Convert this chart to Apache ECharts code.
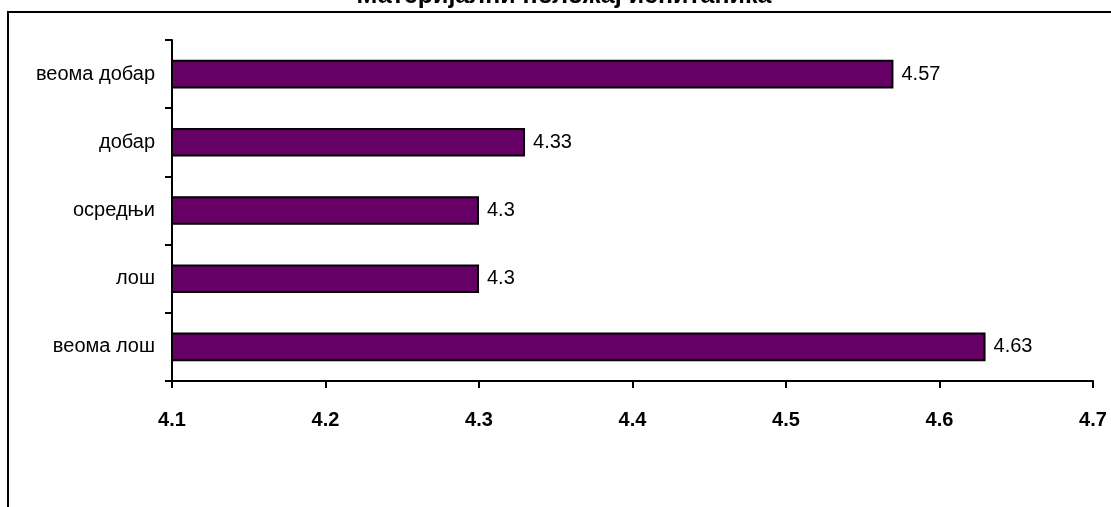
<!DOCTYPE html>
<html><head><meta charset="utf-8">
<script src="https://cdn.jsdelivr.net/npm/echarts@6/dist/echarts.min.js"></script>
<style>html,body{margin:0;padding:0;background:#fff}#c{width:1111px;height:507px}</style>
</head><body><div id="c"></div>
<script>
const titleText = 'Материјални положај испитаника';
const categories = ['веома лош', 'лош', 'осредњи', 'добар', 'веома добар'];
const values = [4.63, 4.3, 4.3, 4.33, 4.57];
const xTicks = [4.1, 4.2, 4.3, 4.4, 4.5, 4.6, 4.7];

const chart = echarts.init(document.getElementById('c'), null, {renderer: 'canvas'});
chart.setOption({
  animation: false,
  backgroundColor: '#fff',
  title: {
    text: titleText, left: 564, textAlign: 'center', top: -16, padding: 0,
    textStyle: {fontFamily: 'Liberation Sans, Arial', fontWeight: 'bold', fontSize: 25, color: '#000'}
  },
  graphic: [{
    type: 'rect', shape: {x: 8, y: 12, width: 1200, height: 600},
    style: {fill: 'none', stroke: '#000', lineWidth: 2}, z: -1
  }],
  grid: {left: 172, right: 18, top: 40, bottom: 126, containLabel: false},
  xAxis: {
    type: 'value', min: xTicks[0], max: xTicks[xTicks.length - 1], interval: 0.1,
    axisLine: {show: true, lineStyle: {color: '#000', width: 2}},
    axisTick: {show: true, length: 7, lineStyle: {color: '#000', width: 2}},
    splitLine: {show: false},
    axisLabel: {
      margin: 29, color: '#000', fontWeight: 'bold', fontSize: 20,
      fontFamily: 'Liberation Sans, Arial',
      formatter: v => (Math.round(v * 10) / 10).toFixed(1)
    }
  },
  yAxis: {
    type: 'category', data: categories, boundaryGap: true,
    axisLine: {show: true, lineStyle: {color: '#000', width: 2}},
    axisTick: {show: true, length: 7, lineStyle: {color: '#000', width: 2}},
    axisLabel: {margin: 17, color: '#000', fontSize: 20, fontFamily: 'Liberation Sans, Arial'}
  },
  series: [{
    type: 'bar', data: values, barWidth: '42%',
    itemStyle: {color: '#660066', borderColor: '#000', borderWidth: 2},
    label: {
      show: true, position: 'right', distance: 8, color: '#000', fontSize: 20,
      fontFamily: 'Liberation Sans, Arial', formatter: p => String(p.value)
    }
  }]
});
</script></body></html>
